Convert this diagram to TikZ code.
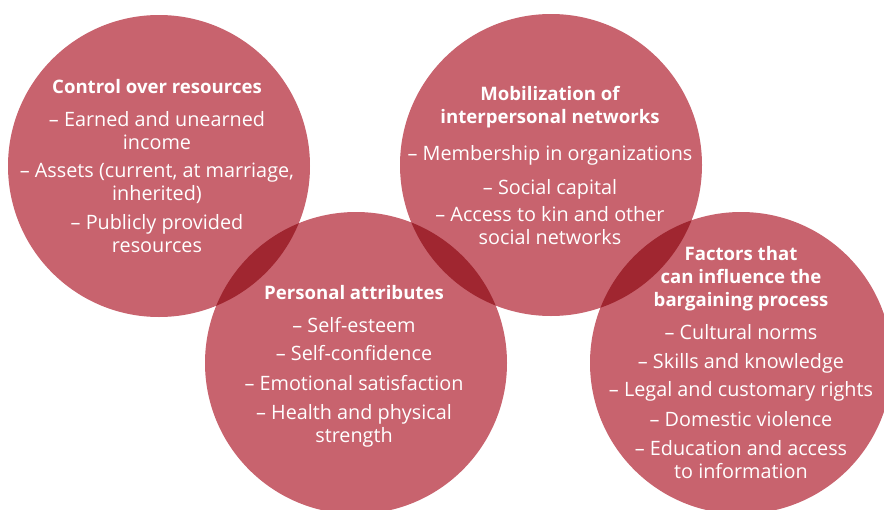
\documentclass[tikz,border=0pt]{standalone}
\usepackage{fontspec}
\setsansfont{Open Sans}
\usetikzlibrary{shapes,calc}
\definecolor{blobred}{RGB}{200,99,110}
\definecolor{blobdark}{RGB}{160,38,48}
\tikzset{
  x=1pt, y=-1pt,
  circ_n/.style = {circle, fill=blobred, inner sep=0pt, minimum size=302pt},
  txt_n/.style = {align=center, white, inner sep=0pt, anchor=base,
    font=\sffamily\fontsize{19.8}{22.5}\selectfont},
  head_t/.style = {txt_n, font=\sffamily\bfseries\fontsize{18.6}{22.8}\selectfont}
}
\newcommand{\overlap}[2]{%
  \begin{scope}
    \clip (#1.center) circle (151pt);
    \fill[blobdark] (#2.center) circle (151pt);
  \end{scope}}

\begin{document}
\begin{tikzpicture}
	\useasboundingbox (0,0) rectangle (884,509);
	% the four circles
	\node [circ_n] (ctrl) at (159,166) {};
	\node [circ_n] (mobil) at (551,165) {};
	\node [circ_n] (pers) at (356,363) {};
	\node [circ_n] (fact) at (741,363) {};
	\overlap{ctrl}{pers}
	\overlap{mobil}{pers}
	\overlap{mobil}{fact}
	% texts (anchored at the baseline of the last line)
	\node [head_t] (ctrl_h) at (157,93) {Control over resources};
	\node [txt_n] (ctrl_i) at (157,252) {-- Earned and unearned\\income\\[6pt]
		-- Assets (current, at marriage,\\inherited)\\[7pt]
		-- Publicly provided\\resources};
	\node [head_t] (mobil_h) at (550,123) {Mobilization of\\interpersonal networks};
	\node [txt_n] (mobil_i) at (550,244) {-- Membership in organizations\\[11pt]
		-- Social capital\\[5pt]
		-- Access to kin and other\\social networks};
	\node [head_t] (pers_h) at (354,299) {Personal attributes};
	\node [txt_n] (pers_i) at (354,442) {-- Self-esteem\\[6pt]
		-- Self-confidence\\[7pt]
		-- Emotional satisfaction\\[7pt]
		-- Health and physical\\strength};
	\node [head_t] (fact_h) at (741,306) {Factors that\\can influence the\\bargaining process};
	\node [txt_n] (fact_i) at (741,478) {-- Cultural norms\\[6pt]
		-- Skills and knowledge\\[6pt]
		-- Legal and customary rights\\[7pt]
		-- Domestic violence\\[7pt]
		-- Education and access\\to information};
\end{tikzpicture}
\end{document}
